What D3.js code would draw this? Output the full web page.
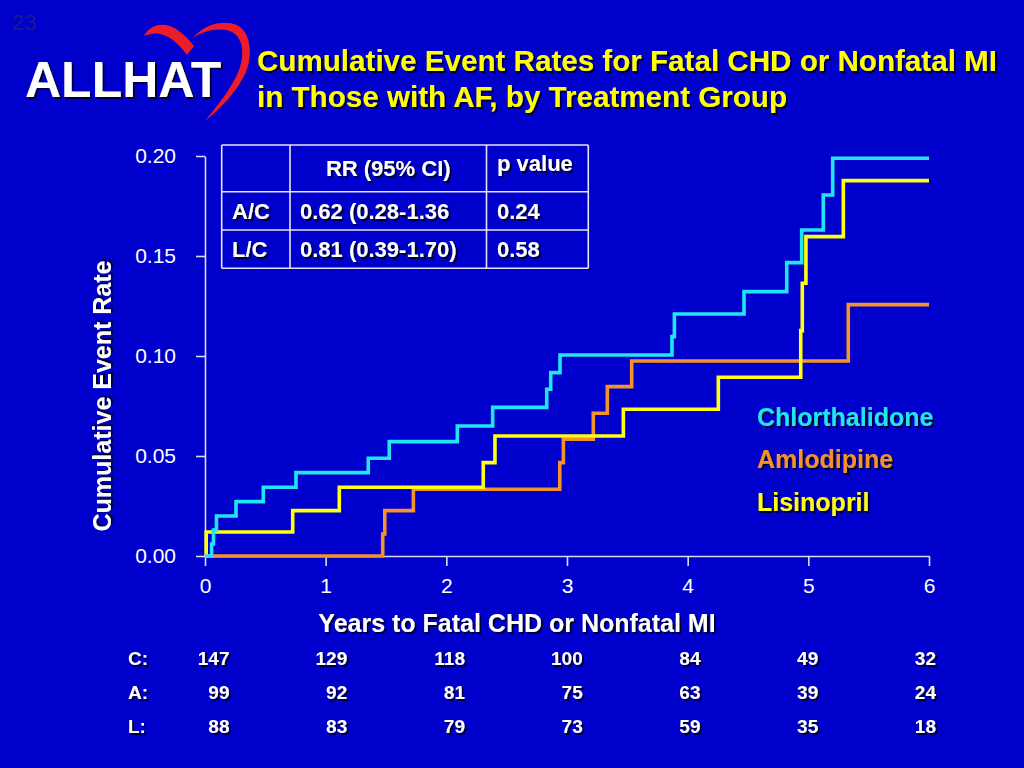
<!DOCTYPE html>
<html>
<head>
<meta charset="utf-8">
<script src="https://cdnjs.cloudflare.com/ajax/libs/d3/7.8.5/d3.min.js"></script>
<style>
  html, body { margin: 0; padding: 0; background: #0000cc; }
  svg { display: block; }
  text { font-family: "Liberation Sans", Arial, Helvetica, sans-serif; }
</style>
</head>
<body>
<svg id="chart" width="1024" height="768"></svg>
<script>
// ---- data ----
const seriesNames = ["Chlorthalidone", "Amlodipine", "Lisinopril"];
const seriesColors = ["#22e4f4", "#f4922c", "#ffff10"];

// step times (years) and cumulative event rate after each step
const chlorTimes = [0, 0.055, 0.07, 0.095, 0.257, 0.483, 0.754, 1.353, 1.527, 2.091, 2.384, 2.832, 2.865, 2.942, 3.87, 3.89, 4.467, 4.821, 4.945, 5.124, 5.202, 6];
const chlorRates = [0, 0.006, 0.013, 0.020, 0.0272, 0.0344, 0.0417, 0.0489, 0.0572, 0.065, 0.0743, 0.0834, 0.0917, 0.1005, 0.1097, 0.121, 0.1322, 0.1467, 0.163, 0.1805, 0.1989, 0.1989];

const amloTimes = [0, 1.473, 1.49, 1.727, 2.94, 2.97, 3.218, 3.334, 3.536, 5.331, 6];
const amloRates = [0, 0.011, 0.0227, 0.0334, 0.0467, 0.0584, 0.0714, 0.0847, 0.0975, 0.1257, 0.1257];

const lisiTimes = [0, 0.01, 0.727, 1.113, 2.306, 2.403, 3.467, 4.254, 4.937, 4.95, 4.98, 5.29, 6];
const lisiRates = [0, 0.012, 0.0227, 0.0344, 0.0467, 0.060, 0.0734, 0.0894, 0.1127, 0.1364, 0.1597, 0.1877, 0.1877];

const yTicks = [0, 0.05, 0.10, 0.15, 0.20];
const xTicks = [0, 1, 2, 3, 4, 5, 6];

const tableHeader = ["", "RR (95% CI)", "p value"];
const tableRows = [
  ["A/C", "0.62 (0.28-1.36", "0.24"],
  ["L/C", "0.81 (0.39-1.70)", "0.58"]
];

const atRiskLabels = ["C:", "A:", "L:"];
const atRiskC = [147, 129, 118, 100, 84, 49, 32];
const atRiskA = [99, 92, 81, 75, 63, 39, 24];
const atRiskL = [88, 83, 79, 73, 59, 35, 18];

const titleLines = ["Cumulative Event Rates for Fatal CHD or Nonfatal MI", "in Those with AF, by Treatment Group"];

// ---- drawing ----
const svg = d3.select("#chart");

const defs = svg.append("defs");
const shadow = defs.append("filter").attr("id", "shadow")
  .attr("x", "-10%").attr("y", "-20%").attr("width", "130%").attr("height", "150%");
shadow.append("feDropShadow")
  .attr("dx", 2).attr("dy", 2).attr("stdDeviation", 0.6)
  .attr("flood-color", "#000022").attr("flood-opacity", 0.85);

svg.append("rect").attr("width", 1024).attr("height", 768).attr("fill", "#0000cc");

// slide number
svg.append("text").attr("x", 12).attr("y", 30)
  .attr("font-size", 22).attr("fill", "#1a1a96").text("23");

// logo: heart swoosh + ALLHAT
const logo = svg.append("g");
logo.append("path")
  .attr("d", "M144,36 C151,23 171,16 194,46 L187,55 C172,34 157,30 144,36 Z")
  .attr("fill", "#ec1c2a");
logo.append("path")
  .attr("d", "M193,38 C203,25 222,19 237,25 C251,32 253,55 246,72 C237,92 221,108 205,121 C217,106 232,88 239,70 C245,54 243,38 232,32 C220,27 205,30 193,38 Z")
  .attr("fill", "#ec1c2a");
logo.append("text").attr("x", 25).attr("y", 97)
  .attr("font-size", 50).attr("font-weight", "bold").attr("fill", "#ffffff")
  .attr("filter", "url(#shadow)").text("ALLHAT");

// title
svg.append("g").selectAll("text").data(titleLines).join("text")
  .attr("x", 257).attr("y", (d, i) => 71 + i * 35.5)
  .attr("font-size", 29.6).attr("font-weight", "bold").attr("fill", "#ffff00")
  .attr("filter", "url(#shadow)").text(d => d);

// scales
const x = d3.scaleLinear().domain([0, 6]).range([205, 929]);
const y = d3.scaleLinear().domain([0, 0.2]).range([556, 156]);

// axes
const axisColor = "#dcdcf0";
const yAxis = svg.append("g").attr("transform", `translate(${x(0)},0)`)
  .call(d3.axisLeft(y).tickValues(yTicks).tickFormat(d3.format(".2f"))
    .tickSize(9).tickSizeOuter(0).tickPadding(20));
const xAxis = svg.append("g").attr("transform", `translate(0,${y(0)})`)
  .call(d3.axisBottom(x).tickValues(xTicks).tickFormat(d3.format("d"))
    .tickSize(10).tickSizeOuter(0).tickPadding(12));
[xAxis, yAxis].forEach(a => {
  a.select(".domain").attr("stroke", axisColor).attr("stroke-width", 1.6);
  a.selectAll(".tick line").attr("stroke", axisColor).attr("stroke-width", 1.6);
  a.selectAll(".tick text").attr("fill", "#ffffff").attr("font-size", 21)
    .attr("font-family", "'Liberation Sans', Arial, sans-serif");
});

// axis titles
svg.append("text").attr("transform", "translate(111,396) rotate(-90)")
  .attr("text-anchor", "middle").attr("font-size", 25).attr("font-weight", "bold")
  .attr("fill", "#ffffff").attr("filter", "url(#shadow)").text("Cumulative Event Rate");
svg.append("text").attr("x", 517).attr("y", 632)
  .attr("text-anchor", "middle").attr("font-size", 25).attr("font-weight", "bold")
  .attr("fill", "#ffffff").attr("filter", "url(#shadow)").text("Years to Fatal CHD or Nonfatal MI");

// step curves
const curves = [
  { times: amloTimes, rates: amloRates, color: seriesColors[1] },
  { times: lisiTimes, rates: lisiRates, color: seriesColors[2] },
  { times: chlorTimes, rates: chlorRates, color: seriesColors[0] }
];
const line = d3.line().curve(d3.curveStepAfter)
  .x(d => x(d[0])).y(d => y(d[1]));
svg.append("g").selectAll("path").data(curves).join("path")
  .attr("d", c => line(d3.zip(c.times, c.rates)))
  .attr("fill", "none").attr("stroke", c => c.color)
  .attr("stroke-width", 3.6).attr("stroke-linejoin", "miter");

// legend
svg.append("g").selectAll("text").data(seriesNames).join("text")
  .attr("x", 757).attr("y", (d, i) => 426 + i * 42.3)
  .attr("font-size", 25).attr("font-weight", "bold")
  .attr("fill", (d, i) => seriesColors[i]).attr("filter", "url(#shadow)").text(d => d);

// RR table
const tableCols = [221.7, 290, 486.5, 588.3];
const tableRowY = [145, 191.7, 230, 268.3];
const tg = svg.append("g");
tableCols.forEach(cx => tg.append("line").attr("x1", cx).attr("x2", cx)
  .attr("y1", tableRowY[0]).attr("y2", tableRowY[3]));
tableRowY.forEach(ry => tg.append("line").attr("x1", tableCols[0]).attr("x2", tableCols[3])
  .attr("y1", ry).attr("y2", ry));
tg.selectAll("line").attr("stroke", "#e4e4f4").attr("stroke-width", 1.6);

const cellText = (txt, xPos, yPos, anchor) => tg.append("text")
  .attr("x", xPos).attr("y", yPos).attr("text-anchor", anchor || "start")
  .attr("font-size", 22).attr("font-weight", "bold").attr("fill", "#ffffff")
  .attr("filter", "url(#shadow)").text(txt);
cellText(tableHeader[1], (tableCols[1] + tableCols[2]) / 2, 176, "middle");
cellText(tableHeader[2], 497, 171);
tableRows.forEach((r, i) => {
  const by = 218.5 + i * 38.3;
  cellText(r[0], 232, by);
  cellText(r[1], 300, by);
  cellText(r[2], 497, by);
});

// numbers at risk
const riskX = d3.scalePoint().domain(xTicks).range([229.5, 936]);
const riskRows = [atRiskC, atRiskA, atRiskL];
const rg = svg.append("g").attr("font-size", 19).attr("font-weight", "bold")
  .attr("fill", "#ffffff");
riskRows.forEach((row, i) => {
  const by = 665 + i * 33.8;
  rg.append("text").attr("x", 128).attr("y", by)
    .attr("filter", "url(#shadow)").text(atRiskLabels[i]);
  rg.append("g").selectAll("text").data(row).join("text")
    .attr("x", (d, j) => riskX(xTicks[j])).attr("y", by)
    .attr("text-anchor", "end").attr("filter", "url(#shadow)").text(d => d);
});
</script>
</body>
</html>
